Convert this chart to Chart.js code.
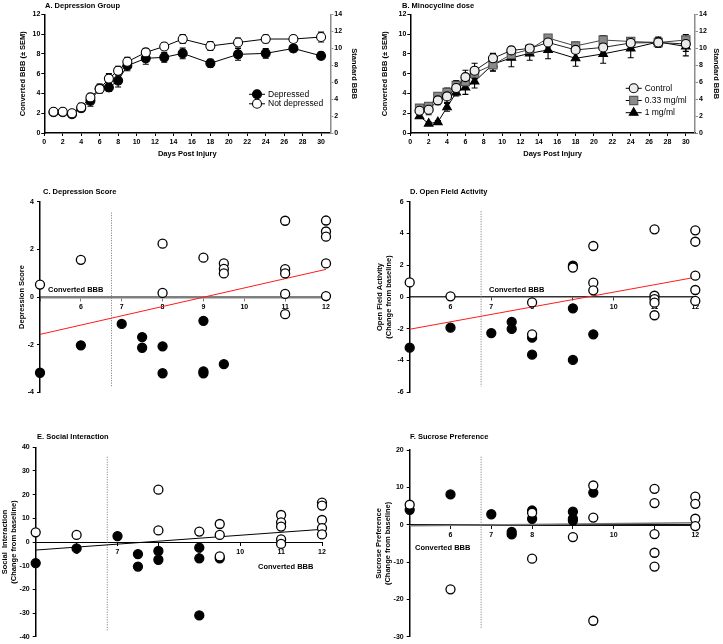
<!DOCTYPE html>
<html>
<head>
<meta charset="utf-8">
<script src="https://cdn.jsdelivr.net/npm/chart.js@4.4.0/dist/chart.umd.min.js"></script>
<style>
  html, body { margin: 0; padding: 0; background: #fff; }
  #wrap { position: relative; width: 723px; height: 644px; overflow: hidden; }
  canvas { position: absolute; }
</style>
</head>
<body>
<div id="wrap">
  <canvas id="chartA" width="362" height="170" style="left:0px;top:0px"></canvas>
  <canvas id="chartB" width="361" height="170" style="left:362px;top:0px"></canvas>
  <canvas id="chartC" width="362" height="215" style="left:0px;top:185px"></canvas>
  <canvas id="chartD" width="361" height="215" style="left:362px;top:185px"></canvas>
  <canvas id="chartE" width="362" height="212" style="left:0px;top:432px"></canvas>
  <canvas id="chartF" width="361" height="212" style="left:362px;top:432px"></canvas>
</div>
<script>
// ---- panel A / B : BBB over time ----
const dayTicks = [0, 2, 4, 6, 8, 10, 12, 14, 16, 18, 20, 22, 24, 26, 28, 30];
const daysA = [1, 2, 3, 4, 5, 6, 7, 8, 9, 11, 13, 15, 18, 21, 24, 27, 30];
const depressedMean = [2.1, 2.1, 1.9, 2.5, 3.25, 4.5, 4.6, 5.3, 6.8, 7.55, 7.65, 8.05, 7.05, 7.95, 8.05, 8.55, 7.8];
const depressedSem = [0.25, 0.2, 0.3, 0.35, 0.55, 0.45, 0.4, 0.65, 0.5, 0.6, 0.5, 0.55, 0.4, 0.6, 0.5, 0.35, 0.35];
const notDepressedMean = [2.15, 2.15, 2.0, 2.6, 3.6, 4.45, 5.5, 6.3, 7.2, 8.15, 8.75, 9.5, 8.8, 9.15, 9.5, 9.5, 9.7];
const notDepressedSem = [0.3, 0.25, 0.3, 0.4, 0.35, 0.4, 0.5, 0.45, 0.45, 0.4, 0.35, 0.45, 0.45, 0.45, 0.4, 0.35, 0.5];

const daysB = [1, 2, 3, 4, 5, 6, 7, 9, 11, 13, 15, 18, 21, 24, 27, 30];
const controlMean = [2.25, 2.35, 3.3, 3.7, 4.55, 5.65, 6.3, 7.55, 8.35, 8.55, 9.15, 8.4, 8.65, 9.1, 9.15, 9.0];
const controlSem = [0.35, 0.5, 0.45, 0.6, 0.4, 0.7, 0.75, 0.5, 0.35, 0.3, 0.45, 0.35, 0.6, 0.4, 0.45, 0.75];
const dose033Mean = [2.5, 2.7, 3.7, 4.1, 4.8, 5.2, 6.05, 6.9, 7.95, 8.45, 9.6, 8.8, 9.4, 9.25, 9.15, 9.4];
const dose033Sem = [0.3, 0.35, 0.35, 0.45, 0.5, 0.45, 0.55, 0.6, 0.5, 0.45, 0.35, 0.4, 0.45, 0.35, 0.5, 0.55];
const dose1Mean = [1.7, 0.95, 1.1, 2.6, 4.1, 4.6, 5.2, 6.95, 7.6, 8.05, 8.4, 7.55, 8.0, 8.55, 9.2, 8.75];
const dose1Sem = [0.2, 0.15, 0.15, 0.4, 0.35, 0.7, 0.65, 0.7, 0.9, 0.7, 0.9, 0.8, 0.95, 0.95, 0.5, 0.95];

// ---- panels C-F : score vs converted BBB ----
const cutoffBBB = 6.75;
const fitX = [5, 12];

const depScoreOpenX = [5, 6, 8, 8, 9, 9.5, 9.5, 9.5, 11, 11, 11, 11, 11, 12, 12, 12, 12, 12];
const depScoreOpenY = [0.52, 1.56, 2.24, 0.17, 1.65, 1.41, 1.18, 0.99, 3.2, 1.17, 0.99, 0.13, -0.72, 3.21, 2.75, 2.53, 1.41, 0.04];
const depScoreFilledX = [5, 6, 7, 7.5, 7.5, 8, 8, 9, 9, 9, 9.5];
const depScoreFilledY = [-3.18, -2.03, -1.13, -1.68, -2.13, -2.07, -3.2, -1.0, -3.12, -3.2, -2.82];
const depScoreFit = [-1.57, 1.16];

const openFieldOpenX = [5, 6, 8, 8, 9, 9.5, 9.5, 9.5, 11, 11, 11, 11, 11, 12, 12, 12, 12, 12];
const openFieldOpenY = [0.92, 0.04, -0.34, -2.35, 1.85, 3.21, 0.9, 0.42, 4.26, 0.08, -0.13, -0.36, -1.15, 4.2, 3.48, 1.34, 0.44, -0.25];
const openFieldFilledX = [5, 6, 7, 7.5, 7.5, 8, 8, 9, 9, 9, 9.5];
const openFieldFilledY = [-3.19, -1.93, -2.27, -1.57, -2.01, -2.56, -3.63, 1.97, -0.71, -3.96, -2.35];
const openFieldFit = [-2.03, 1.24];

const socialOpenX = [5, 6, 8, 8, 9, 9.5, 9.5, 9.5, 11, 11, 11, 11, 11, 12, 12, 12, 12, 12];
const socialOpenY = [4.1, 3.0, 22.1, 4.9, 4.4, 7.6, 3.0, -6.1, 11.4, 8.3, 6.5, 1.1, -0.8, 16.6, 15.4, 9.3, 5.9, 3.2];
const socialFilledX = [5, 6, 7, 7.5, 7.5, 8, 8, 9, 9, 9, 9.5];
const socialFilledY = [-8.9, -2.7, 2.5, -5.1, -10.4, -3.8, -7.5, -2.4, -6.9, -31, -6.9];
const socialFit = [-3.4, 5.35];

const sucroseOpenX = [5, 6, 8, 8, 9, 9.5, 9.5, 9.5, 11, 11, 11, 11, 11, 12, 12, 12, 12];
const sucroseOpenY = [5.35, -17.3, 3.2, -9.1, -3.3, 10.5, 1.9, -25.7, 9.6, 5.8, -2.5, -7.5, -11.2, 7.5, 5.6, 1.6, -0.35];
const sucroseFilledX = [5, 6, 7, 7.5, 7.5, 8, 8, 9, 9, 9, 9.5];
const sucroseFilledY = [4.0, 8.1, 2.8, -1.9, -2.6, 3.8, 1.6, 3.5, 1.6, 1.1, 8.6];
const sucroseFit = [-0.3, 0.5];

const family = '"Liberation Sans", Arial, Helvetica, sans-serif';
Chart.defaults.font.family = family;
Chart.defaults.color = '#000';
Chart.defaults.animation = false;
Chart.defaults.plugins.legend.display = false;
Chart.defaults.plugins.tooltip.enabled = false;

const tickFont = { size: 7, weight: 'bold' };
const axisFont = { size: 7.5, weight: 'bold', lineHeight: 1.2 };

function toPoints(xs, ys) {
  return xs.map((x, i) => ({ x: x, y: ys[i] }));
}

// error bars, panel titles, notes and the small legends
const panelDeco = {
  id: 'panelDeco',
  beforeDatasetsDraw(chart) {
    const ctx = chart.ctx;
    chart.data.datasets.forEach((ds, i) => {
      if (!ds.sem) return;
      const meta = chart.getDatasetMeta(i);
      const yScale = chart.scales[meta.yAxisID];
      ctx.save();
      ctx.strokeStyle = '#000';
      ctx.lineWidth = 1.1;
      meta.data.forEach((pt, j) => {
        const v = ds.data[j].y;
        const top = yScale.getPixelForValue(v + ds.sem[j]);
        const bot = yScale.getPixelForValue(v - ds.sem[j]);
        ctx.beginPath();
        ctx.moveTo(pt.x, top); ctx.lineTo(pt.x, bot);
        ctx.moveTo(pt.x - 3, top); ctx.lineTo(pt.x + 3, top);
        ctx.moveTo(pt.x - 3, bot); ctx.lineTo(pt.x + 3, bot);
        ctx.stroke();
      });
      ctx.restore();
    });
  },
  afterDraw(chart, args, opts) {
    const ctx = chart.ctx;
    ctx.save();
    ctx.textBaseline = 'middle';
    (opts.texts || []).forEach(t => {
      ctx.fillStyle = '#000';
      ctx.font = 'bold 7.5px ' + family;
      ctx.textAlign = 'left';
      ctx.fillText(t.text, t.x, t.y);
    });
    if (opts.legend) {
      const lg = opts.legend;
      lg.items.forEach((idx, k) => {
        const ds = chart.data.datasets[idx];
        const y = lg.y + k * lg.dy;
        ctx.strokeStyle = '#000';
        ctx.lineWidth = 1;
        ctx.beginPath(); ctx.moveTo(lg.x - 8, y); ctx.lineTo(lg.x + 8, y); ctx.stroke();
        ctx.fillStyle = ds.pointBackgroundColor;
        ctx.strokeStyle = ds.pointBorderColor;
        ctx.lineWidth = ds.pointBorderWidth;
        Chart.helpers.drawPoint(ctx, { pointStyle: ds.pointStyle, radius: ds.pointRadius, rotation: 0, borderWidth: ds.pointBorderWidth }, lg.x, y);
        ctx.fillStyle = '#000';
        ctx.font = 'normal 8.5px ' + family;
        ctx.textAlign = 'left';
        ctx.fillText(ds.label, lg.x + 11, y);
      });
    }
    ctx.restore();
  }
};

function bbbSeries(label, days, mean, sem, style) {
  return Object.assign({
    label: label,
    data: toPoints(days, mean),
    sem: sem,
    borderColor: '#000',
    borderWidth: 1,
    pointStyle: 'circle',
    pointRadius: 4.5,
    pointBorderColor: '#000',
    pointBorderWidth: 1.1,
    tension: 0,
    clip: false,
    yAxisID: 'y'
  }, style);
}

function bbbChart(id, datasets, o) {
  return new Chart(document.getElementById(id), {
    type: 'line',
    data: { datasets: datasets },
    options: {
      responsive: false,
      layout: { padding: { left: 0, right: 0, top: 14.3, bottom: 0 } },
      scales: {
        x: {
          type: 'linear', min: 0, max: 31,
          afterBuildTicks: s => { s.ticks = dayTicks.map(v => ({ value: v })); },
          afterFit: s => { s.height = 37; },
          grid: { display: true, drawOnChartArea: false, drawTicks: true, tickLength: 3, color: '#000' },
          border: { display: true, color: '#000', width: 1.5 },
          ticks: { font: tickFont, color: '#000', padding: 1.5, autoSkip: false, maxRotation: 0 },
          title: { display: true, text: 'Days Post Injury', font: axisFont, color: '#000', padding: { top: 0, bottom: 11.5 } }
        },
        y: {
          position: 'left', min: 0, max: 12,
          afterFit: s => { s.width = o.leftWidth; },
          grid: { display: true, drawOnChartArea: false, drawTicks: true, tickLength: 3, color: '#000' },
          border: { display: true, color: '#000', width: 1.5 },
          ticks: { stepSize: 2, font: tickFont, color: '#000', padding: 1 },
          title: { display: true, text: 'Converted BBB (\u00b1 SEM)', font: axisFont, color: '#000', padding: { top: o.leftTitlePad, bottom: 0 } }
        },
        y2: {
          position: 'right', min: 0, max: 14,
          afterFit: s => { s.width = o.rightWidth; },
          grid: { display: true, drawOnChartArea: false, drawTicks: true, tickLength: 3, color: '#8c8c8c' },
          border: { display: true, color: '#8c8c8c', width: 1.5 },
          ticks: { stepSize: 2, font: tickFont, color: '#000', padding: 1 },
          title: { display: true, text: 'Standard BBB', font: axisFont, color: '#000', padding: { top: o.rightTitlePad, bottom: 0 } }
        }
      },
      plugins: { panelDeco: o.deco }
    },
    plugins: [panelDeco]
  });
}

bbbChart('chartA', [
  bbbSeries('Not depressed', daysA, notDepressedMean, notDepressedSem, { pointBackgroundColor: '#fff' }),
  bbbSeries('Depressed', daysA, depressedMean, depressedSem, { pointBackgroundColor: '#000' })
], {
  leftWidth: 44.3, leftTitlePad: 18.5, rightWidth: 31.7, rightTitlePad: 3.5,
  deco: {
    texts: [{ text: 'A. Depression Group', x: 45, y: 5.5 }],
    legend: { x: 257, y: 94.3, dy: 9.5, items: [1, 0] }
  }
});

bbbChart('chartB', [
  bbbSeries('Control', daysB, controlMean, controlSem, { pointBackgroundColor: '#ececec', borderColor: '#222' }),
  bbbSeries('0.33 mg/ml', daysB, dose033Mean, dose033Sem, { pointStyle: 'rect', pointRadius: 5.8, pointBackgroundColor: '#8a8a8a', pointBorderColor: '#555', borderColor: '#444' }),
  bbbSeries('1 mg/ml', daysB, dose1Mean, dose1Sem, { pointStyle: 'triangle', pointRadius: 5, pointBackgroundColor: '#000' })
], {
  leftWidth: 48.3, leftTitlePad: 18.8, rightWidth: 28, rightTitlePad: 2.2,
  deco: {
    texts: [{ text: 'B. Minocycline dose', x: 40, y: 5.5 }],
    legend: { x: 271.7, y: 88.3, dy: 12.2, items: [0, 1, 2] }
  }
});

function scatterChart(id, c) {
  return new Chart(document.getElementById(id), {
    type: 'scatter',
    data: {
      datasets: [
        { label: 'open', data: toPoints(c.openX, c.openY), pointRadius: 4.5, pointBorderWidth: 1.3, pointBackgroundColor: '#fff', pointBorderColor: '#000', clip: false },
        { label: 'filled', data: toPoints(c.filledX, c.filledY), pointRadius: 4.5, pointBorderWidth: 1.3, pointBackgroundColor: '#000', pointBorderColor: '#000', clip: false },
        { label: 'fit', data: toPoints(fitX, c.fit), showLine: true, pointRadius: 0, borderColor: c.fitColor, borderWidth: c.fitWidth || 1, clip: false },
        { label: 'cutoff', data: toPoints([cutoffBBB, cutoffBBB], c.cutoffY), showLine: true, pointRadius: 0, borderColor: '#777', borderWidth: 1, borderDash: [1, 1.5], clip: false }
      ]
    },
    options: {
      responsive: false,
      layout: { padding: { left: 0, right: c.padRight, top: c.padTop, bottom: c.padBottom } },
      scales: {
        x: {
          type: 'linear', min: 5, max: 12, position: { y: 0 },
          grid: { display: true, drawOnChartArea: false, drawTicks: true, tickLength: 3, color: c.axisColor },
          border: { display: true, color: c.axisColor, width: c.axisWidth },
          ticks: { stepSize: 1, font: tickFont, color: '#000', padding: 3, maxRotation: 0, callback: v => (v === 5 ? '' : v) }
        },
        y: {
          position: 'left', min: c.yMin, max: c.yMax,
          afterFit: s => { s.width = c.yWidth; },
          grid: { display: true, drawOnChartArea: false, drawTicks: true, tickLength: 3, color: '#000' },
          border: { display: true, color: '#000', width: 1.5 },
          ticks: { stepSize: c.yStep, font: tickFont, color: '#000', padding: 3 },
          title: { display: true, text: c.yTitle, font: axisFont, color: '#000', padding: { top: c.yTitlePad, bottom: 0 } }
        }
      },
      plugins: { panelDeco: { texts: c.texts } }
    },
    plugins: [panelDeco]
  });
}

scatterChart('chartC', {
  openX: depScoreOpenX, openY: depScoreOpenY, filledX: depScoreFilledX, filledY: depScoreFilledY,
  fit: depScoreFit, fitColor: '#ff1a1a', cutoffY: [3.54, -3.8],
  yMin: -4, yMax: 4, yStep: 2, yTitle: 'Depression Score', yWidth: 40, yTitlePad: 17.5,
  axisColor: '#7f7f7f', axisWidth: 2.5,
  padRight: 36, padTop: 16.7, padBottom: 7.7,
  texts: [{ text: 'C. Depression Score', x: 43, y: 7 }, { text: 'Converted BBB', x: 48, y: 105 }]
});

scatterChart('chartD', {
  openX: openFieldOpenX, openY: openFieldOpenY, filledX: openFieldFilledX, filledY: openFieldFilledY,
  fit: openFieldFit, fitColor: '#ff1a1a', cutoffY: [5.4, -5.64],
  yMin: -6, yMax: 6, yStep: 2, yTitle: ['Open Field Activity', '(Change from baseline)'], yWidth: 47.7, yTitlePad: 13.8,
  axisColor: '#333', axisWidth: 1.5,
  padRight: 27.7, padTop: 16.7, padBottom: 7.7,
  texts: [{ text: 'D. Open Field Activity', x: 48, y: 7 }, { text: 'Converted BBB', x: 127, y: 105 }]
});

scatterChart('chartE', {
  openX: socialOpenX, openY: socialOpenY, filledX: socialFilledX, filledY: socialFilledY,
  fit: socialFit, fitColor: '#000', cutoffY: [36, -37.9],
  yMin: -40, yMax: 40, yStep: 10, yTitle: ['Social  Interaction', '(Change from baseline)'], yWidth: 35.7, yTitlePad: 0.5,
  axisColor: '#000', axisWidth: 1,
  padRight: 40, padTop: 15.3, padBottom: 7.3,
  texts: [{ text: 'E. Social Interaction', x: 37, y: 4.7 }, { text: 'Converted BBB', x: 258, y: 134.7 }]
});

scatterChart('chartF', {
  openX: sucroseOpenX, openY: sucroseOpenY, filledX: sucroseFilledX, filledY: sucroseFilledY,
  fit: sucroseFit, fitColor: '#777', fitWidth: 1.5, cutoffY: [18.2, -27.8],
  yMin: -30, yMax: 20, yStep: 10, yTitle: ['Sucrose Preference', '(Change from baseline)'], yWidth: 47.7, yTitlePad: 12.2,
  axisColor: '#111', axisWidth: 2,
  padRight: 27.7, padTop: 18, padBottom: 4,
  texts: [{ text: 'F. Sucrose Preference', x: 48, y: 4.7 }, { text: 'Converted BBB', x: 53, y: 116 }]
});
</script>
</body>
</html>
